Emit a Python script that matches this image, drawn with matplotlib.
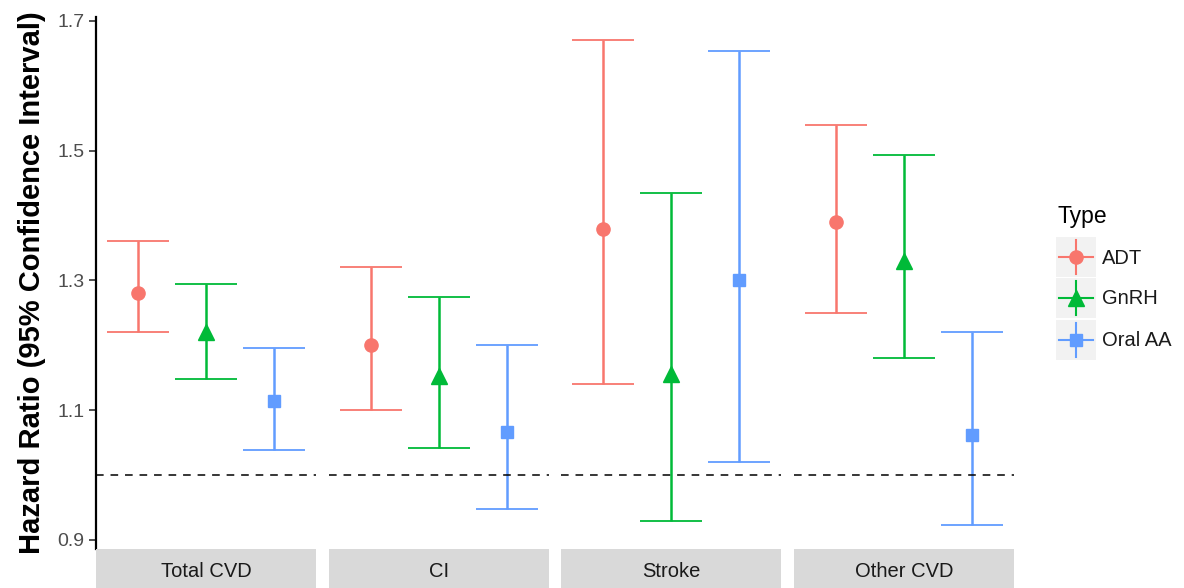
import matplotlib.pyplot as plt
from matplotlib.patches import Rectangle

plt.rcParams['font.family'] = ['Liberation Sans', 'DejaVu Sans']

# hazard ratios, one value per outcome
outcomes = ["Total CVD", "CI", "Stroke", "Other CVD"]
types = ["ADT", "GnRH", "Oral AA"]

adt_hr = [1.28, 1.20, 1.38, 1.39]
adt_lo = [1.22, 1.10, 1.14, 1.25]
adt_hi = [1.36, 1.32, 1.67, 1.54]

gnrh_hr = [1.22, 1.152, 1.155, 1.33]
gnrh_lo = [1.148, 1.042, 0.929, 1.18]
gnrh_hi = [1.294, 1.274, 1.434, 1.494]

oral_hr = [1.114, 1.066, 1.30, 1.062]
oral_lo = [1.039, 0.947, 1.020, 0.923]
oral_hi = [1.196, 1.201, 1.653, 1.221]

y_ticks = [0.9, 1.1, 1.3, 1.5, 1.7]

series = [(adt_hr, adt_lo, adt_hi), (gnrh_hr, gnrh_lo, gnrh_hi), (oral_hr, oral_lo, oral_hi)]
colors = ["#F8766D", "#00BA38", "#619CFF"]
markers = ["o", "^", "s"]
msizes = [9.5, 11, 9]

W, H = 1184, 588
fig = plt.figure(figsize=(W / 100, H / 100), dpi=100)

panel_left = [96, 329, 561, 794]
panel_w = 220
top, bottom = 17, 549
dodge = 0.37

for i, name in enumerate(outcomes):
    l = panel_left[i]
    ax = fig.add_axes([l / W, (H - bottom) / H, panel_w / W, (bottom - top) / H])
    ax.set_xlim(-0.6, 0.6)
    ax.set_ylim(0.886, 1.706)
    for j, (hr, lo, hi) in enumerate(series):
        x = (j - 1) * dodge
        ax.errorbar([x], [hr[i]], yerr=[[hr[i] - lo[i]], [hi[i] - hr[i]]],
                    fmt=markers[j], color=colors[j], ms=msizes[j],
                    capsize=22.3, elinewidth=1.8, capthick=1.3)
    ax.axhline(1.0, color="black", ls=(0, (5, 4.5)), lw=1.1, zorder=5)
    ax.set_xticks([])
    for s in ["top", "right", "bottom"]:
        ax.spines[s].set_visible(False)
    if i == 0:
        ax.spines["left"].set_linewidth(1.6)
        ax.spines["left"].set_color("black")
        ax.set_yticks(y_ticks)
        ax.set_yticklabels([f"{t:.1f}" for t in y_ticks])
        ax.tick_params(axis="y", length=5, width=1.2, color="#333333",
                       labelcolor="#4D4D4D", labelsize=14, pad=3.5)
        ax.set_ylabel("Hazard Ratio (95% Confidence Interval)",
                      fontsize=21, fontweight="bold")
        ax.yaxis.set_label_coords(-0.228, 0.5)
    else:
        ax.spines["left"].set_visible(False)
        ax.set_yticks([])

    # facet strip underneath the panel
    sax = fig.add_axes([l / W, 0, panel_w / W, (H - bottom) / H])
    sax.set_facecolor("#D9D9D9")
    sax.set_xticks([])
    sax.set_yticks([])
    for s in sax.spines.values():
        s.set_visible(False)
    sax.text(0.5, 0.42, name, ha="center", va="center",
             fontsize=14.5, color="#1A1A1A", transform=sax.transAxes)

# legend drawn in pixel coordinates
lax = fig.add_axes([1045 / W, (H - 365) / H, (W - 1045) / W, 170 / H])
lax.set_xlim(1045, W)
lax.set_ylim(365, 195)
lax.axis("off")
lax.text(1058, 216, "Type", fontsize=16.5, va="center", ha="left")
key_y = [257, 298, 340]
for j, t in enumerate(types):
    cy = key_y[j]
    lax.add_patch(Rectangle((1056, cy - 20), 40, 40, color="#F2F2F2", lw=0))
    lax.plot([1059, 1093], [cy, cy], color=colors[j], lw=1.5)
    lax.plot([1076, 1076], [cy - 17, cy + 17], color=colors[j], lw=1.5)
    lax.plot([1076], [cy], marker=markers[j], color=colors[j], ms=msizes[j], ls="none")
    lax.text(1102, cy + 1, t, fontsize=14.5, va="center", ha="left", color="#1A1A1A")

fig.savefig("out.png", dpi=100)
